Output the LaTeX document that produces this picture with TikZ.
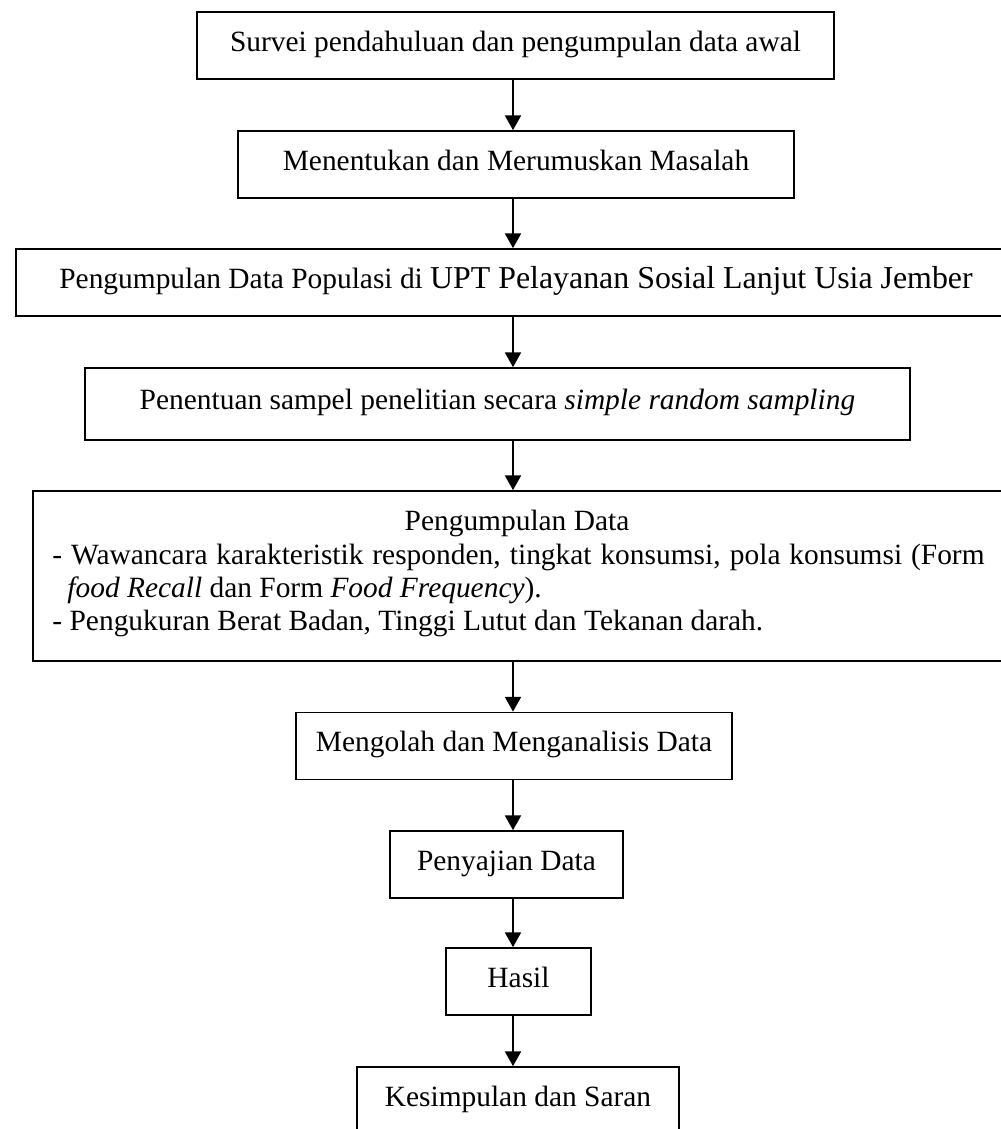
\documentclass[tikz,border=0pt]{standalone}
\usepackage{fontspec}
\setmainfont{Liberation Serif}
\usetikzlibrary{arrows.meta}
\newcommand{\pxu}{0.408pt}
\begin{document}
\begin{tikzpicture}[x=0.408pt,y=-0.408pt,
  box/.style={draw, line width=0.7pt, inner sep=0pt, minimum height=67*\pxu, text height=9pt, text depth=4.2pt, font=\fontsize{12}{14}\selectfont},
  txt/.style={inner sep=0pt, font=\fontsize{12}{14}\selectfont},
  arr/.style={-{Triangle[length=6pt,width=6.5pt]}, line width=0.8pt}]
\useasboundingbox (0,0) rectangle (1001,1129);
\coordinate (ax) at (513,0);
\node[box, minimum width=637*\pxu] (b1) at (515.5,45.5) {Survei pendahuluan dan pengumpulan data awal};
\node[box, minimum width=556*\pxu] (b2) at (516,164.5) {Menentukan dan Merumuskan Masalah};
\node[box, minimum width=1000*\pxu] (b3) at (516,282.5) {Pengumpulan Data Populasi di {\fontsize{13}{15}\selectfont UPT Pelayanan Sosial Lanjut Usia Jember}};
\node[box, minimum width=825*\pxu, minimum height=72*\pxu] (b4) at (497.5,404) {Penentuan sampel penelitian secara \textit{simple random sampling}};
\node[box, minimum width=972*\pxu, minimum height=170*\pxu] (b5) at (519,576) {};
\node[txt, anchor=base] (b5t) at (517,530) {Pengumpulan Data};
\node[txt, anchor=base west] (b5a) at (52,564) {\makebox[380.3pt][s]{- Wawancara karakteristik responden, tingkat konsumsi, pola konsumsi (Form}};
\node[txt, anchor=base west] (b5b) at (67,597) {\textit{food Recall} dan Form \textit{Food Frequency}).};
\node[txt, anchor=base west] (b5c) at (52,630) {- Pengukuran Berat Badan, Tinggi Lutut dan Tekanan darah.};
\node[box, minimum width=436*\pxu] (b6) at (514,746) {Mengolah dan Menganalisis Data};
\node[box, minimum width=233*\pxu] (b7) at (506.5,864.5) {Penyajian Data};
\node[box, minimum width=145*\pxu] (b8) at (518.5,981.5) {Hasil};
\node[box, minimum width=322*\pxu] (b9) at (518,1100.5) {Kesimpulan dan Saran};
\draw[arr] (b1.south -| ax) -- (b2.north -| ax);
\draw[arr] (b2.south -| ax) -- (b3.north -| ax);
\draw[arr] (b3.south -| ax) -- (b4.north -| ax);
\draw[arr] (b4.south -| ax) -- (b5.north -| ax);
\draw[arr] (b5.south -| ax) -- (b6.north -| ax);
\draw[arr] (b6.south -| ax) -- (b7.north -| ax);
\draw[arr] (b7.south -| ax) -- (b8.north -| ax);
\draw[arr] (b8.south -| ax) -- (b9.north -| ax);
\end{tikzpicture}
\end{document}
